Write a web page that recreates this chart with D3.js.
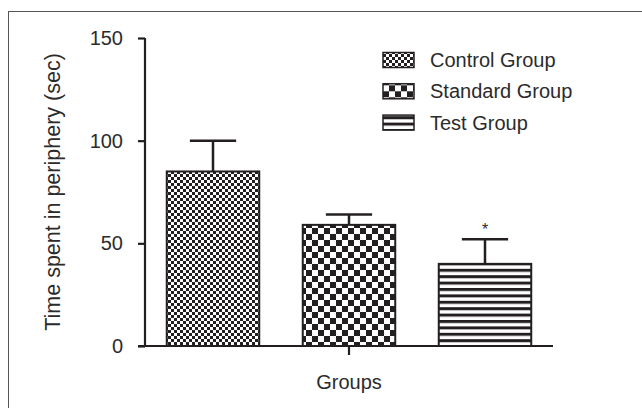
<!DOCTYPE html>
<html>
<head>
<meta charset="utf-8">
<script src="https://cdn.jsdelivr.net/npm/d3@7"></script>
<style>
  body { margin: 0; background: #fff; }
  svg text { font-family: "Liberation Sans", Arial, sans-serif; fill: #2b2b2b; }
</style>
</head>
<body>
<svg id="chart" width="642" height="408"></svg>
<script>
// Data
const groups = ['Control Group', 'Standard Group', 'Test Group'];
const means = [85, 59, 40];
const errTops = [100, 64, 52];
const yTicks = [0, 50, 100, 150];
const marks = ['', '', '*'];

// Layout
const X0 = 145, X1 = 553, Y0 = 346, Y1 = 38;
const INK = '#231f20';

const svg = d3.select('#chart');

// Frame (right and bottom edges fall outside the picture)
svg.append('rect')
  .attr('x', 8.5).attr('y', 11.5)
  .attr('width', 700).attr('height', 500)
  .attr('fill', 'none').attr('stroke', '#555').attr('stroke-width', 1);

// Patterns
const defs = svg.append('defs');

const p1 = defs.append('pattern').attr('id', 'pat-control')
  .attr('patternUnits', 'userSpaceOnUse').attr('width', 6).attr('height', 6);
p1.append('rect').attr('width', 6).attr('height', 6).attr('fill', '#fff');
p1.append('rect').attr('width', 3).attr('height', 3).attr('fill', INK);
p1.append('rect').attr('x', 3).attr('y', 3).attr('width', 3).attr('height', 3).attr('fill', INK);

const p2 = defs.append('pattern').attr('id', 'pat-standard')
  .attr('patternUnits', 'userSpaceOnUse').attr('width', 12).attr('height', 12);
p2.append('rect').attr('width', 12).attr('height', 12).attr('fill', '#fff');
p2.append('rect').attr('width', 6).attr('height', 6).attr('fill', INK);
p2.append('rect').attr('x', 6).attr('y', 6).attr('width', 6).attr('height', 6).attr('fill', INK);

const p3 = defs.append('pattern').attr('id', 'pat-test')
  .attr('patternUnits', 'userSpaceOnUse').attr('width', 10).attr('height', 6.4);
p3.append('rect').attr('width', 10).attr('height', 6.4).attr('fill', '#fff');
p3.append('rect').attr('y', 0).attr('width', 10).attr('height', 3).attr('fill', INK);

const fills = ['url(#pat-control)', 'url(#pat-standard)', 'url(#pat-test)'];

// Scales
const x = d3.scaleBand().domain(groups).range([X0, X1])
  .paddingInner(0.32).paddingOuter(0.16);
const y = d3.scaleLinear().domain([0, 150]).range([Y0, Y1]);

// Bars
svg.selectAll('rect.bar')
  .data(groups)
  .enter()
  .append('rect')
  .attr('class', 'bar')
  .attr('x', (d) => x(d))
  .attr('y', (d, i) => y(means[i]))
  .attr('width', x.bandwidth())
  .attr('height', (d, i) => y(0) - y(means[i]))
  .attr('fill', (d, i) => fills[i])
  .attr('stroke', INK)
  .attr('stroke-width', 2);

// Error bars (upper whisker only)
const capW = x.bandwidth() / 2;
groups.forEach((g, i) => {
  const cx = x(g) + x.bandwidth() / 2;
  svg.append('line')
    .attr('x1', cx).attr('x2', cx)
    .attr('y1', y(means[i])).attr('y2', y(errTops[i]))
    .attr('stroke', INK).attr('stroke-width', 2.5);
  svg.append('line')
    .attr('x1', cx - capW / 2).attr('x2', cx + capW / 2)
    .attr('y1', y(errTops[i])).attr('y2', y(errTops[i]))
    .attr('stroke', INK).attr('stroke-width', 2.5);
  if (marks[i]) {
    svg.append('text')
      .attr('x', cx).attr('y', y(errTops[i]) - 4)
      .attr('text-anchor', 'middle')
      .attr('font-size', 16)
      .text(marks[i]);
  }
});

// Y axis
const yAxis = d3.axisLeft(y).tickValues(yTicks).tickSize(7).tickPadding(15);
const gy = svg.append('g')
  .attr('transform', `translate(${X0}, 0)`)
  .call(yAxis);
gy.select('.domain').attr('stroke', INK).attr('stroke-width', 2.2)
  .attr('d', `M0,${Y1}V${Y0}`);
gy.selectAll('.tick line').attr('stroke', INK).attr('stroke-width', 2.2);
gy.selectAll('.tick text').attr('font-size', 20).style('fill', '#2b2b2b');

// X axis (single tick under the middle bar)
const xAxis = d3.axisBottom(x).tickValues([groups[1]]).tickSize(9).tickFormat('');
const gx = svg.append('g')
  .attr('transform', `translate(0, ${Y0})`)
  .call(xAxis);
gx.select('.domain').attr('stroke', INK).attr('stroke-width', 2.2)
  .attr('d', `M${X0 - 7},0H${X1}`);
gx.selectAll('.tick line').attr('stroke', INK).attr('stroke-width', 2.2);

// Axis titles
svg.append('text')
  .attr('x', (X0 + X1) / 2).attr('y', 389)
  .attr('text-anchor', 'middle').attr('font-size', 20)
  .text('Groups');

svg.append('text')
  .attr('transform', `translate(60, ${(Y0 + Y1) / 2}) rotate(-90)`)
  .attr('text-anchor', 'middle').attr('font-size', 21.5)
  .text('Time spent in periphery (sec)');

// Legend
const legend = svg.append('g').attr('transform', 'translate(383, 60)');
groups.forEach((g, i) => {
  const row = legend.append('g').attr('transform', `translate(0, ${i * 31.3})`);
  row.append('rect')
    .attr('x', 0).attr('y', -7.5)
    .attr('width', 31).attr('height', 15)
    .attr('fill', fills[i]).attr('stroke', INK).attr('stroke-width', 1.5);
  row.append('text')
    .attr('x', 47).attr('y', 7)
    .attr('font-size', 20)
    .text(g);
});
</script>
</body>
</html>
